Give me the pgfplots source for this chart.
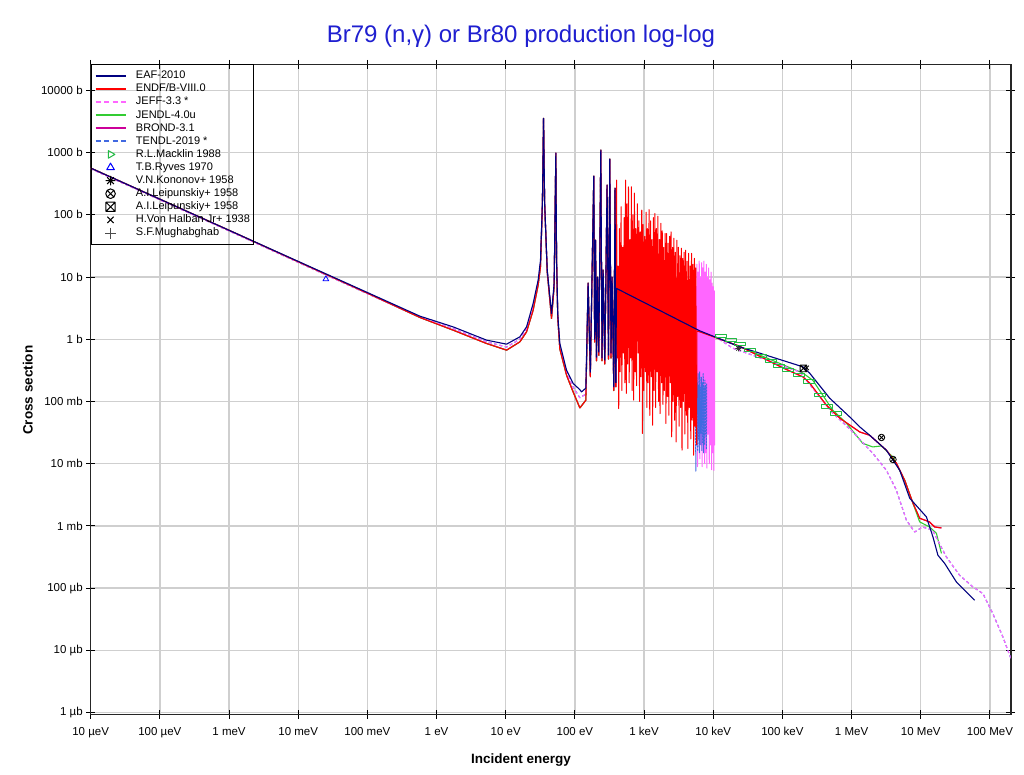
\documentclass[border=0pt]{standalone}
\usepackage{fontspec}
\setmainfont{Liberation Sans}
\usepackage{pgfplots}
\pgfplotsset{compat=1.18}
\usepackage{pgfplotstable}
\usetikzlibrary{plotmarks}

\definecolor{cEAF}{HTML}{000080}
\definecolor{cENDF}{HTML}{FF0000}
\definecolor{cJEFF}{HTML}{FF66FF}
\definecolor{cJENDL}{HTML}{33CC33}
\definecolor{cBROND}{HTML}{CC0099}
\definecolor{cTENDL}{HTML}{4169E1}
\definecolor{cMack}{HTML}{22BB44}
\definecolor{titleblue}{HTML}{1F1FD0}

\pgfplotsset{
  lineleg/.style={legend image code/.code={\draw[##1] (0pt,0pt) -- (30pt,0pt);}},
  markleg/.style={legend image code/.code={\draw[##1] plot coordinates {(15pt,0pt)};}},
}

\pgfdeclareplotmark{boxtimes}{%
  \pgfpathrectangle{\pgfqpoint{-\pgfplotmarksize}{-\pgfplotmarksize}}{\pgfqpoint{2\pgfplotmarksize}{2\pgfplotmarksize}}%
  \pgfpathmoveto{\pgfqpoint{-\pgfplotmarksize}{-\pgfplotmarksize}}\pgfpathlineto{\pgfqpoint{\pgfplotmarksize}{\pgfplotmarksize}}%
  \pgfpathmoveto{\pgfqpoint{-\pgfplotmarksize}{\pgfplotmarksize}}\pgfpathlineto{\pgfqpoint{\pgfplotmarksize}{-\pgfplotmarksize}}%
  \pgfusepathqstroke}
\pgfdeclareplotmark{ast8}{%
  \pgfpathmoveto{\pgfqpoint{-\pgfplotmarksize}{0pt}}\pgfpathlineto{\pgfqpoint{\pgfplotmarksize}{0pt}}%
  \pgfpathmoveto{\pgfqpoint{0pt}{-\pgfplotmarksize}}\pgfpathlineto{\pgfqpoint{0pt}{\pgfplotmarksize}}%
  \pgfpathmoveto{\pgfqpoint{-.707\pgfplotmarksize}{-.707\pgfplotmarksize}}\pgfpathlineto{\pgfqpoint{.707\pgfplotmarksize}{.707\pgfplotmarksize}}%
  \pgfpathmoveto{\pgfqpoint{-.707\pgfplotmarksize}{.707\pgfplotmarksize}}\pgfpathlineto{\pgfqpoint{.707\pgfplotmarksize}{-.707\pgfplotmarksize}}%
  \pgfusepathqstroke}
\pgfdeclareplotmark{hbox}{%
  \pgfpathrectangle{\pgfqpoint{-5.5pt}{-1.6pt}}{\pgfqpoint{11pt}{3.2pt}}%
  \pgfusepathqstroke}

% low-energy region and isolated resonances (E in eV, sigma in b)
\pgfplotstableread{
E eaf endf jeff
1e-5 564 564 550
1e-4 178.3 178.3 174
1e-3 56.4 56.4 55
1e-2 17.83 17.6 17.2
0.1 5.64 5.5 5.4
0.574 2.35 2.24 2.28
1.738 1.58 1.40 1.48
5.28 0.968 0.855 0.91
10.28 0.834 0.668 0.75
16.0 1.094 0.908 1.0
20.0 1.58 1.315 1.45
24.9 3.77 2.94 3.3
29.4 8.91 7.41 8.2
31.8 18.7 14.6 16.5
33.9 158 150 155
35.2 3550 3550 3500
36.5 158 150 155
39.8 13 12 12.5
45.9 2.60 2.16 2.4
50.1 8 7 7.5
53.0 982 982 970
54.3 20 18 19
56.5 2.5 2.2 2.3
60.5 0.855 0.7 0.78
75.7 0.318 0.265 0.29
94.2 0.195 0.1426 0.17
117.8 0.155 0.0789 0.115
124.5 0.1426 0.085 0.12
143.9 0.164 0.105 0.13
155.2 7.98 7.98 7.9
167 0.296 0.25 0.27
187.5 419 419 410
193 1.0 0.9 0.95
198.6 39.2 39.2 38
205.2 0.515 0.45 0.48
212.3 9.95 9.95 9.8
221.5 0.621 0.55 0.58
236.8 1096 1096 1080
246.4 0.5 0.45 0.47
255.8 12.9 12.9 12.5
270.4 0.461 0.4 0.43
291.9 300 300 295
305.9 0.555 0.48 0.5
319.3 787 787 770
332.4 0.6 0.5 0.55
344.8 9.95 9.95 9.8
364.9 0.172 0.15 0.16
380.5 268 268 260
390 0.2 0.17 0.18
}\lowres

\pgfplotstableread{
E s
390 0.2
399 6.56
6380 1.365
24200 0.755
198600 0.360
247700 0.285
482000 0.113
938000 0.0565
1.31e6 0.0391
1.824e6 0.0287
3.18e6 0.01648
4.96e6 7.85e-3
6.92e6 2.79e-3
1.205e7 1.40e-3
1.50e7 6.65e-4
1.77e7 3.38e-4
2.21e7 2.51e-4
3.27e7 1.26e-4
4.56e7 8.69e-5
6.01e7 6.38e-5
}\eafhigh

\pgfplotstableread{
E s
390 0.17
400 361
410 0.5
420 15
430 0.077
440 60
451 0.3
465 135
477 0.15
490 30
502 0.6
515 90
527 0.2
540 361
553 0.135
565 150
579 0.4
595 282
609 0.2
625 40
640 0.5
655 282
671 0.15
690 100
707 0.105
725 223
742 0.3
760 60
778 0.18
800 150
819 0.6
840 80
860 0.1
880 53
901 0.25
925 119
947 0.0306
970 70
993 0.15
1020 45
1044 0.3
1070 110
1096 0.08
1120 60
1147 0.2
1180 121
1208 0.06
1240 80
1270 0.25
1300 40
1331 0.0416
1365 90
1398 0.15
1435 105
1469 0.08
1505 60
1541 0.3
1580 95
1618 0.1
1660 40
1700 0.064
1745 73
1787 0.2
1830 55
1874 0.09
1920 30
1966 0.15
2020 50
2068 0.0443
2120 50
2171 0.12
2225 35
2278 0.06
2335 45
2391 0.2
2450 53
2509 0.027
2575 30
2637 0.1
2700 42
2765 0.05
2835 25
2903 0.0224
2980 39
3051 0.12
3130 30
3205 0.04
3285 22
3364 0.08
3450 29
3533 0.0165
3620 20
3707 0.1
3800 25
3891 0.03
3990 27
4086 0.06
4190 18
4291 0.0175
4400 24
4506 0.08
4620 15
4731 0.025
4850 24
4966 0.05
5090 16
5212 0.0137
5350 20
5478 0.04
5600 14
5734 0.02
}\endfres

\pgfplotstableread{
E s
5734 0.02
5800 1.36
6380 1.315
24200 0.77
1.0e5 0.349
198600 0.248
247700 0.197
432500 0.0871
673000 0.0540
1.31e6 0.0324
1.824e6 0.0287
3.18e6 0.01648
4.44e6 0.0102
5.85e6 5.43e-3
7.71e6 2.32e-3
9.64e6 1.33e-3
1.34e7 1.16e-3
1.59e7 9.63e-4
1.99e7 9.28e-4
}\endfhigh

\pgfplotstableread{
E s
6380 1.315
9850 1.12
24200 0.76
198600 0.285
274000 0.220
535000 0.0724
841000 0.0448
1.445e6 0.0213
2.02e6 0.0186
2.70e6 0.0193
3.93e6 0.01285
5.85e6 5.43e-3
9.64e6 1.16e-3
1.34e7 9.63e-4
1.68e7 7.64e-4
1.99e7 3.62e-4
}\jendlhigh

\pgfplotstableread{
E s
390 0.18
400 2
5700 1.0
}\jeffmid

\pgfplotstableread{
E s
5700 1.0
5800 16
5916 0.009
6030 12
6150 0.03
6270 18
6395 0.012
6520 10
6650 0.02
6780 17
6916 0.009
7050 14
7191 0.04
7330 18
7477 0.01
7620 12
7772 0.015
7930 16
8089 0.0085
8250 10
8415 0.03
8580 14
8752 0.01
8920 9
9098 0.02
9280 12
9466 0.008
9650 8
9843 0.015
10000 7
10200 0.0078
10400 6
10450 0.02
10500 1.12
}\jeffzig

\pgfplotstableread{
E s
10500 1.12
19100 0.72
177800 0.299
535000 0.0649
1.04e6 0.0324
2.02e6 0.01476
3.18e6 7.85e-3
4.44e6 3.75e-3
6.19e6 1.24e-3
8.17e6 8.0e-4
1.06e7 9.63e-4
1.48e7 8.53e-4
2.34e7 3.18e-4
3.65e7 1.61e-4
5.68e7 1.045e-4
7.92e7 8.18e-5
1.10e8 3.9e-5
1.54e8 1.64e-5
2.0e8 7.5e-6
}\jeffsmooth

\pgfplotstableread{
E s
5500 0.3
5600 0.0076
5700 0.25
5780 0.02
5860 0.2
5940 0.016
6020 0.28
6100 0.025
6190 0.18
6280 0.015
6370 0.3
6460 0.02
6560 0.17
6650 0.03
6750 0.25
6850 0.016
6950 0.2
7050 0.022
7160 0.28
7260 0.015
7370 0.17
7480 0.02
7590 0.22
7700 0.03
7820 0.18
7940 0.017
8050 0.2
}\tendlzig

\pgfplotstableread{
E s
12800 1.134
17900 0.978
24500 0.843
33700 0.668
48600 0.541
67800 0.445
88400 0.377
121300 0.322
172000 0.267
244000 0.210
346000 0.126
444000 0.0832
585000 0.0641
}\macklin

\begin{document}
\begin{tikzpicture}
\useasboundingbox (-90.7pt,-60pt) rectangle (933.3pt,714.3pt);
\fill[white] (-90.7pt,-60pt) rectangle (933.3pt,714.3pt);
\begin{axis}[
  scale only axis, width=920pt, height=650pt,
  xmode=log, ymode=log,
  xmin=1e-5, xmax=1.995e8, ymin=9.4e-7, ymax=2.62e4,
  xtick={1e-5,1e-4,1e-3,1e-2,1e-1,1,10,100,1e3,1e4,1e5,1e6,1e7,1e8},
  xticklabels={10 µeV,100 µeV,1 meV,10 meV,100 meV,1 eV,10 eV,100 eV,1 keV,10 keV,100 keV,1 MeV,10 MeV,100 MeV},
  ytick={1e-6,1e-5,1e-4,1e-3,1e-2,1e-1,1,10,100,1e3,1e4},
  yticklabels={1 µb,10 µb,100 µb,1 mb,10 mb,100 mb,1 b,10 b,100 b,1000 b,10000 b},
  xminorticks=false, yminorticks=false,
  grid=major, major grid style={draw=black!19, line width=1.4pt},
  tick align=center, major tick length=9pt,
  tick style={black, line width=1pt},
  axis line style={black!85, line width=1.6pt},
  ticklabel style={font=\fontsize{11.5}{13}\selectfont},
  xticklabel style={yshift=-5pt},
  title={Br79 (n,γ) or Br80 production log-log},
  title style={at={(axis description cs:0.4677,1.0242)}, anchor=base, font=\fontsize{24}{27}\selectfont, text=titleblue},
  xlabel={Incident energy},
  xlabel style={at={(axis description cs:0.4677,-0.0758)}, anchor=base, font=\fontsize{13.5}{15}\selectfont\bfseries},
  ylabel={Cross section},
  ylabel style={at={(axis description cs:-0.063,0.4985)}, anchor=base, font=\fontsize{13.5}{15}\selectfont\bfseries},
  legend style={at={(0,1)}, anchor=north west, draw=black, line width=0.9pt, fill=none,
    font=\fontsize{11}{13}\selectfont, inner xsep=3.5pt, inner ysep=4.5pt, row sep=0pt, column sep=9.5pt,
    nodes={inner sep=0pt, text height=9.5pt, text depth=3.6pt}},
  legend cell align=left,
  lineleg,
  every axis plot/.append style={line join=round},
]
% legend entries
\addlegendimage{color=cEAF, line width=1.8pt}
\addlegendentry{EAF-2010}
\addlegendimage{color=cENDF, line width=1.8pt}
\addlegendentry{ENDF/B-VIII.0}
\addlegendimage{color=cJEFF, line width=1.8pt, dash pattern=on 5pt off 3.5pt}
\addlegendentry{JEFF-3.3 *}
\addlegendimage{color=cJENDL, line width=1.8pt}
\addlegendentry{JENDL-4.0u}
\addlegendimage{color=cBROND, line width=1.8pt}
\addlegendentry{BROND-3.1}
\addlegendimage{color=cTENDL, line width=1.8pt, dash pattern=on 5pt off 3.5pt}
\addlegendentry{TENDL-2019 *}
\addlegendimage{color=cMack, line width=1pt, mark=triangle, mark size=4.4pt, mark options={rotate=-90, solid}, markleg}
\addlegendentry{R.L.Macklin 1988}
\addlegendimage{color=blue, line width=1pt, mark=triangle, mark size=4.4pt, markleg}
\addlegendentry{T.B.Ryves 1970}
\addlegendimage{color=black, line width=1pt, mark=ast8, mark size=4.8pt, markleg}
\addlegendentry{V.N.Kononov+ 1958}
\addlegendimage{color=black, line width=1pt, mark=otimes, mark size=4.8pt, markleg}
\addlegendentry{A.I.Leipunskiy+ 1958}
\addlegendimage{color=black, line width=1pt, mark=boxtimes, mark size=4.6pt, markleg}
\addlegendentry{A.I.Leipunskiy+ 1958}
\addlegendimage{color=black, line width=1pt, mark=x, mark size=4.4pt, markleg}
\addlegendentry{H.Von Halban Jr+ 1938}
\addlegendimage{color=black!70, line width=1pt, mark=+, mark size=5.5pt, markleg}
\addlegendentry{S.F.Mughabghab}

% BROND-3.1
\addplot[color=cBROND, line width=1.1pt, forget plot] table[x=E,y=endf]{\lowres};
\addplot[color=cBROND, line width=1.1pt, forget plot] table[x=E,y=s]{\endfhigh};
% JENDL-4.0u
\addplot[color=cJENDL, line width=1.1pt, forget plot] table[x=E,y=endf]{\lowres};
\addplot[color=cJENDL, line width=1.1pt, forget plot] table[x=E,y=s]{\jendlhigh};
% TENDL-2019
\addplot[color=cTENDL, line width=1.1pt, dash pattern=on 3pt off 2.5pt, forget plot] table[x=E,y=jeff]{\lowres};
\addplot[color=cTENDL, line width=1.1pt, dash pattern=on 3pt off 2.5pt, forget plot] table[x=E,y=s]{\jeffmid};
\addplot[color=cTENDL, line width=1.1pt, dash pattern=on 3pt off 2.5pt, forget plot] table[x=E,y=s]{\jeffsmooth};
% JEFF-3.3
\addplot[color=cJEFF, line width=1.1pt, dash pattern=on 3pt off 2.5pt, forget plot] table[x=E,y=jeff]{\lowres};
\addplot[color=cJEFF, line width=1.1pt, dash pattern=on 3pt off 2.5pt, forget plot] table[x=E,y=s]{\jeffmid};
\addplot[color=cJEFF, line width=1.0pt, forget plot] table[x=E,y=s]{\jeffzig};
\addplot[color=cJEFF, line width=1.1pt, dash pattern=on 3pt off 2.5pt, forget plot] table[x=E,y=s]{\jeffsmooth};
% TENDL resonance part
\addplot[color=cTENDL, line width=1.0pt, dash pattern=on 2pt off 1pt, forget plot] table[x=E,y=s]{\tendlzig};
% ENDF/B-VIII.0
\addplot[color=cENDF, line width=1.1pt, forget plot] table[x=E,y=endf]{\lowres};
\addplot[color=cENDF, line width=1.0pt, forget plot] table[x=E,y=s]{\endfres};
\addplot[color=cENDF, line width=1.1pt, forget plot] table[x=E,y=s]{\endfhigh};
% EAF-2010
\addplot[color=cEAF, line width=1.1pt, forget plot] table[x=E,y=eaf]{\lowres};
\addplot[color=cEAF, line width=1.1pt, forget plot] table[x=E,y=s]{\eafhigh};

% experimental data
\addplot[only marks, mark=hbox, color=cMack, mark options={line width=0.9pt}, forget plot] table[x=E,y=s]{\macklin};
\addplot[only marks, mark=triangle, color=blue, mark size=3.3pt, mark options={line width=0.8pt}, forget plot] coordinates {(0.0251,9.25)};
\addplot[only marks, mark=ast8, color=black!80, mark size=3pt, mark options={line width=0.8pt}, forget plot] coordinates {(23100,0.711)};
\addplot[only marks, mark=otimes, color=black, mark size=3.3pt, mark options={line width=0.8pt}, forget plot] coordinates {(2.70e6,0.0264) (3.96e6,0.0117)};
\addplot[only marks, mark=boxtimes, color=black, mark size=3.3pt, mark options={line width=0.9pt}, forget plot] coordinates {(2.01e5,0.340)};
\addplot[only marks, mark=x, color=black, mark size=3pt, mark options={line width=0.8pt}, forget plot] coordinates {(2.24e5,0.347)};
\end{axis}
\end{tikzpicture}
\end{document}
